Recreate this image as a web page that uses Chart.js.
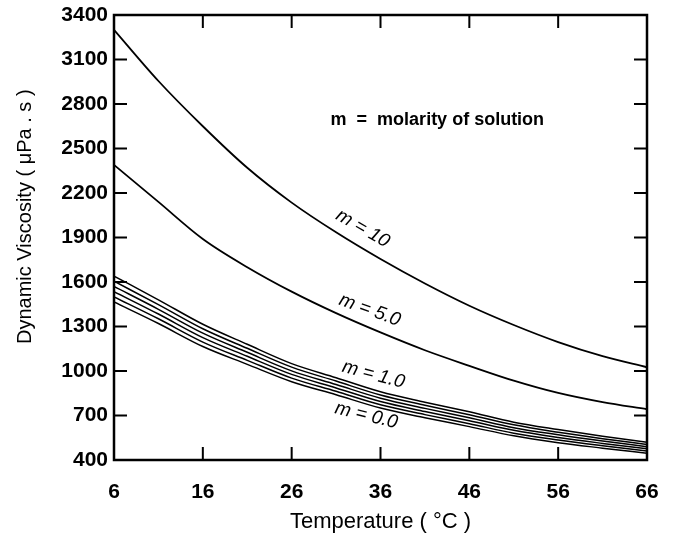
<!DOCTYPE html>
<html>
<head>
<meta charset="utf-8">
<script src="https://cdn.jsdelivr.net/npm/chart.js@4"></script>
<style>
  html, body { margin: 0; padding: 0; background: #fff; }
  #wrap { width: 674px; height: 544px; }
</style>
</head>
<body>
<div id="wrap"><canvas id="chart" width="674" height="544"></canvas></div>
<script>
// temperature (deg C) where curves were read
var temps = [6, 11, 16, 21, 26, 31, 36, 41, 46, 51, 56, 61, 66];

// dynamic viscosity (uPa.s), one array per molarity
var visc_m10  = [3300, 2955, 2650, 2370, 2135, 1935, 1755, 1590, 1440, 1310, 1195, 1100, 1025];
var visc_m5   = [2390, 2140, 1890, 1700, 1535, 1390, 1260, 1140, 1035, 935, 852, 790, 742];
var visc_m1_0 = [1640, 1480, 1315, 1180, 1050, 955, 860, 790, 725, 655, 605, 560, 520];
var visc_m0_8 = [1605, 1448, 1285, 1153, 1026, 932, 838, 769, 705, 637, 587, 544, 505];
var visc_m0_6 = [1570, 1416, 1255, 1126, 1001, 909, 816, 748, 685, 618, 570, 528, 490];
var visc_m0_4 = [1535, 1384, 1225, 1099, 977, 886, 794, 727, 665, 600, 552, 512, 475];
var visc_m0_2 = [1500, 1352, 1195, 1072, 952, 863, 772, 706, 645, 581, 535, 496, 460];
var visc_m0_0 = [1465, 1320, 1165, 1045, 928, 840, 750, 685, 625, 563, 517, 480, 445];

var seriesNames = ["m = 10", "m = 5.0", "m = 1.0", "m = 0.8", "m = 0.6", "m = 0.4", "m = 0.2", "m = 0.0"];
var seriesValues = [visc_m10, visc_m5, visc_m1_0, visc_m0_8, visc_m0_6, visc_m0_4, visc_m0_2, visc_m0_0];

var xTicks = [6, 16, 26, 36, 46, 56, 66];
var yTicks = [400, 700, 1000, 1300, 1600, 1900, 2200, 2500, 2800, 3100, 3400];

// curve labels placed in data coordinates (temperature, viscosity), angle in degrees
var curveLabels = [
    {text: "m = 10",  t: 34.0, v: 1960, angle: 30},
    {text: "m = 5.0", t: 34.8, v: 1410, angle: 20},
    {text: "m = 1.0", t: 35.2, v: 975,  angle: 15},
    {text: "m = 0.0", t: 34.4, v: 700,  angle: 14}
];
var noteText = "m  =  molarity of solution";
var yTitle = "Dynamic Viscosity ( μPa . s )";

var FONT = "'Liberation Sans', Arial, Helvetica, sans-serif";

function toPoints(values) {
    var pts = [];
    for (var i = 0; i < temps.length; i++) {
        pts.push({x: temps[i], y: values[i]});
    }
    return pts;
}

var datasets = [];
for (var i = 0; i < seriesValues.length; i++) {
    var bundle = i >= 2;
    datasets.push({
        label: seriesNames[i],
        data: toPoints(seriesValues[i]),
        borderColor: "#000",
        borderWidth: bundle ? 1.5 : 1.8,
        pointRadius: 0,
        fill: false,
        cubicInterpolationMode: "monotone"
    });
}

// frame with inward ticks on all four sides, plus the text labels
var framePlugin = {
    id: "frame",
    afterDatasetsDraw: function(chart) {
        var ctx = chart.ctx;
        var a = chart.chartArea;
        var xs = chart.scales.x, ys = chart.scales.y;
        var len = 13;
        ctx.save();
        ctx.strokeStyle = "#000";
        ctx.lineWidth = 2.5;
        ctx.strokeRect(a.left, a.top, a.right - a.left, a.bottom - a.top);
        ctx.lineWidth = 2;
        ctx.beginPath();
        xTicks.forEach(function(t) {
            if (t === xs.min || t === xs.max) return;
            var px = xs.getPixelForValue(t);
            ctx.moveTo(px, a.bottom); ctx.lineTo(px, a.bottom - len);
            ctx.moveTo(px, a.top); ctx.lineTo(px, a.top + len);
        });
        yTicks.forEach(function(v) {
            if (v === ys.min || v === ys.max) return;
            var py = ys.getPixelForValue(v);
            ctx.moveTo(a.left, py); ctx.lineTo(a.left + len, py);
            ctx.moveTo(a.right, py); ctx.lineTo(a.right - len, py);
        });
        ctx.stroke();

        ctx.fillStyle = "#000";
        ctx.textAlign = "center";
        ctx.textBaseline = "middle";
        curveLabels.forEach(function(l) {
            ctx.save();
            ctx.translate(xs.getPixelForValue(l.t), ys.getPixelForValue(l.v));
            ctx.rotate(l.angle * Math.PI / 180);
            ctx.font = "italic 19px " + FONT;
            ctx.fillText(l.text, 0, 0);
            ctx.restore();
        });
        ctx.font = "bold 18px " + FONT;
        ctx.fillText(noteText, xs.getPixelForValue(42.4), ys.getPixelForValue(2690));

        // y axis title, sits a bit above the middle of the axis as in the original
        ctx.save();
        ctx.translate(25, ys.getPixelForValue(2040));
        ctx.rotate(-Math.PI / 2);
        ctx.font = "20px " + FONT;
        ctx.fillText(yTitle, 0, 0);
        ctx.restore();
        ctx.restore();
    }
};

var plainNumber = function(value) { return String(value); };

var chart = new Chart(document.getElementById("chart"), {
    type: "line",
    data: {datasets: datasets},
    plugins: [framePlugin],
    options: {
        responsive: false,
        animation: false,
        layout: {padding: {left: 0, right: 27, top: 15, bottom: 0}},
        plugins: {
            legend: {display: false},
            tooltip: {enabled: false}
        },
        scales: {
            x: {
                type: "linear",
                min: 6,
                max: 66,
                afterBuildTicks: function(scale) {
                    scale.ticks = xTicks.map(function(v) { return {value: v}; });
                },
                afterFit: function(scale) {
                    scale.height = 84;
                    scale.paddingLeft = 0;
                    scale.paddingRight = 0;
                },
                grid: {display: false, drawTicks: false},
                border: {display: false},
                ticks: {
                    color: "#000",
                    padding: 20,
                    maxRotation: 0,
                    callback: plainNumber,
                    font: {family: FONT, size: 21, weight: "bold"}
                },
                title: {
                    display: true,
                    text: "Temperature ( °C )",
                    color: "#000",
                    padding: {top: 0, bottom: 9},
                    font: {family: FONT, size: 22}
                }
            },
            y: {
                type: "linear",
                min: 400,
                max: 3400,
                afterBuildTicks: function(scale) {
                    scale.ticks = yTicks.map(function(v) { return {value: v}; });
                },
                afterFit: function(scale) {
                    scale.width = 114;
                    scale.paddingTop = 0;
                    scale.paddingBottom = 0;
                },
                grid: {display: false, drawTicks: false},
                border: {display: false},
                ticks: {
                    color: "#000",
                    padding: 6,
                    callback: plainNumber,
                    font: {family: FONT, size: 21, weight: "bold"}
                },
                title: {display: false}
            }
        }
    }
});
</script>
</body>
</html>
